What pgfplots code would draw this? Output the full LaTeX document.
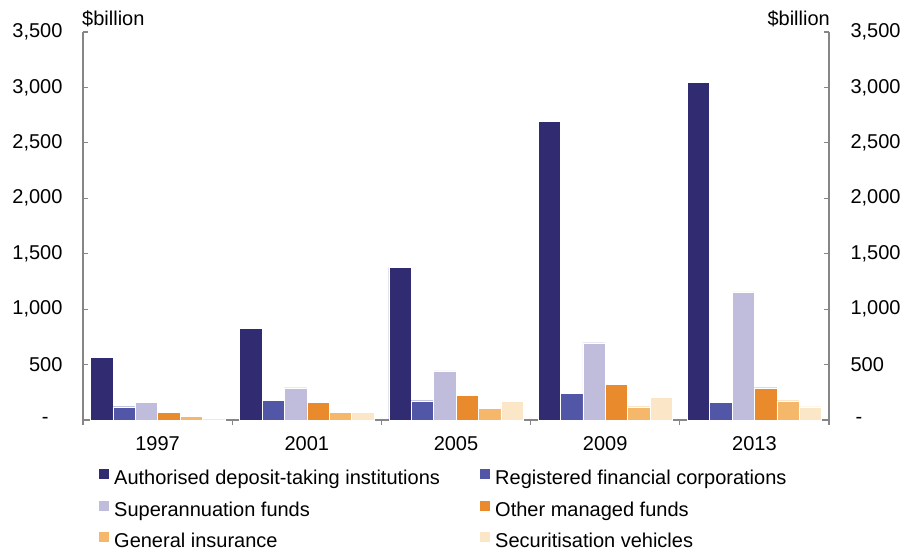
\documentclass[border=0pt]{standalone}
\usepackage{pgfplots}
\pgfplotsset{compat=1.18}
\usepackage{fontspec}
\setmainfont{Liberation Sans}
\definecolor{cADI}{HTML}{312C72}
\definecolor{cRFC}{HTML}{5256A6}
\definecolor{cSUP}{HTML}{C0BDDC}
\definecolor{cOMF}{HTML}{E98A2D}
\definecolor{cGI}{HTML}{F5B76A}
\definecolor{cSV}{HTML}{FBE6C8}
\definecolor{axgray}{HTML}{868686}
\newcommand{\fs}{\fontsize{20}{23}\selectfont}
\begin{document}
\begin{tikzpicture}[x=1pt,y=1pt]
\useasboundingbox (-83,-132) rectangle (824,420);
\begin{axis}[
  name=main,
  at={(0,0)}, anchor=south west,
  scale only axis, width=746pt, height=388pt,
  xmin=-0.5, xmax=4.5, ymin=0, ymax=3500,
  axis y line*=left, axis x line*=bottom,
  axis line style={draw=axgray, line width=1.5pt, -},
  tick align=inside,
  tick style={draw=axgray, line width=1.2pt},
  major tick length=5pt,
  xtick={-0.5,0.5,1.5,2.5,3.5,4.5},
  x tick label as interval=true,
  xticklabels={1997,2001,2005,2009,2013},
  xticklabel style={font=\fs, yshift=-8pt},
  ytick={0,500,1000,1500,2000,2500,3000,3500},
  yticklabels={{-\hspace*{14pt}},500,{1,000},{1,500},{2,000},{2,500},{3,000},{3,500}},
  yticklabel style={font=\fs, xshift=-17pt},
  ybar=0pt, bar width=22.4pt,
  every axis plot/.append style={draw=white, line width=0.4pt},
  legend columns=2,
  legend cell align=left,
  legend style={draw=none, fill=none, font=\fs, at={(16pt,-48pt)}, anchor=north west,
    inner sep=0pt, row sep=11.5pt,
    /tikz/every odd column/.append style={column sep=0pt}},
  legend image code/.code={\fill[#1, draw=none] (0pt,-1pt) rectangle (10pt,9pt);},
]
\addplot[fill=cADI] coordinates {(0,565) (1,829) (2,1376) (3,2695) (4,3048)};
\addplot[fill=cRFC] coordinates {(0,120) (1,177) (2,174) (3,243) (4,159)};
\addplot[fill=cSUP] coordinates {(0,160) (1,291) (2,444) (3,697) (4,1156)};
\addplot[fill=cOMF] coordinates {(0,72) (1,159) (2,222) (3,324) (4,291)};
\addplot[fill=cGI] coordinates {(0,36) (1,72) (2,105) (3,120) (4,174)};
\addplot[fill=cSV] coordinates {(0,18) (1,72) (2,171) (3,205) (4,120)};
\legend{\hspace*{3pt}\makebox[364pt][l]{Authorised deposit-taking institutions},\hspace*{3pt}Registered financial corporations,
  \hspace*{3pt}\makebox[364pt][l]{Superannuation funds},\hspace*{3pt}Other managed funds,
  \hspace*{3pt}\makebox[364pt][l]{General insurance},\hspace*{3pt}Securitisation vehicles}
\end{axis}
\begin{axis}[
  at={(0,0)}, anchor=south west,
  scale only axis, width=746pt, height=388pt,
  xmin=-0.5, xmax=4.5, ymin=0, ymax=3500,
  axis y line*=right, axis x line=none,
  axis line style={draw=axgray, line width=1.5pt, -},
  tick align=inside,
  tick style={draw=axgray, line width=1.2pt},
  major tick length=5pt,
  ytick={0,500,1000,1500,2000,2500,3000,3500},
  yticklabels={{\hspace*{5pt}-},500,{1,000},{1,500},{2,000},{2,500},{3,000},{3,500}},
  yticklabel style={font=\fs, xshift=18pt},
]
\end{axis}
\node[anchor=base west, font=\fs, inner sep=0pt] at (-1pt,394pt) {\$billion};
\node[anchor=base east, font=\fs, inner sep=0pt] at (747pt,394pt) {\$billion};
\end{tikzpicture}
\end{document}
